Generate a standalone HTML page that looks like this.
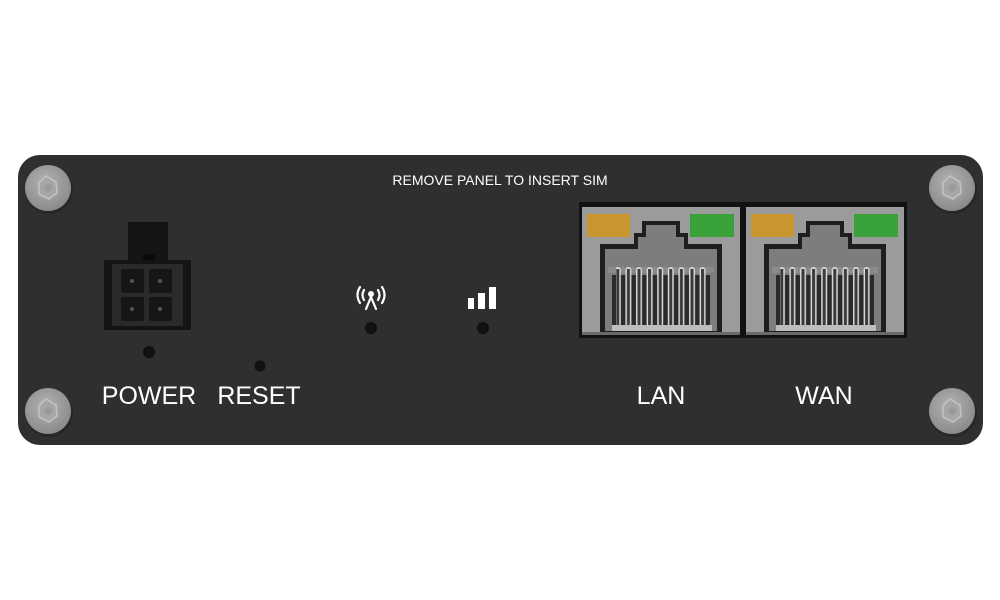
<!DOCTYPE html>
<html><head><style>
html,body{margin:0;padding:0;background:#fff;width:1000px;height:600px;overflow:hidden}
svg{display:block}
text{font-family:"Liberation Sans",sans-serif;fill:#fff}
</style></head><body>
<svg width="1000" height="600" viewBox="0 0 1000 600" xmlns="http://www.w3.org/2000/svg">
<defs>
<radialGradient id="sg" cx="0.45" cy="0.4" r="0.6">
<stop offset="0" stop-color="#b5b5b5"/><stop offset="1" stop-color="#8a8a8a"/>
</radialGradient>
<g id="screw">
<circle r="24" fill="#1f1f20" opacity="0.5" cx="1" cy="2"/>
<circle r="23" fill="url(#sg)"/>
<polygon points="-2,-12 8,-6 9,5 1,11 -9,6 -9,-5" fill="#a6a6a6" stroke="#c4c4c4" stroke-width="1.5"/>
<circle r="4" fill="#9a9a9a"/>
</g>
<pattern id="pins" x="0" y="0" width="10.6" height="60" patternUnits="userSpaceOnUse">
<rect x="1" y="0" width="6" height="60" rx="3" fill="#d8d8d8"/>
<rect x="2.5" y="2" width="3" height="58" fill="#3a3a3a"/>
</pattern>
<g id="jack">
<rect x="0" y="0" width="158" height="128" fill="#9b9b9b"/>
<rect x="5" y="7" width="43" height="23" fill="#c8952e"/>
<rect x="108" y="7" width="44" height="23" fill="#3aa23a"/>
<path d="M18 128 V37 H52 V26 H60 V14 H98 V26 H106 V37 H140 V128 Z" fill="#1e1e1e"/>
<path d="M23 124 V42 H56 V30 H64 V18 H94 V30 H102 V42 H135 V124 Z" fill="#7d7d7d"/>
<rect x="26" y="60" width="106" height="6" fill="#8a8a8a"/>
<rect x="30" y="68" width="98" height="54" fill="#2a2a2a"/>
<rect x="34" y="60" width="92" height="62" fill="url(#pins)"/>
<rect x="30" y="118" width="100" height="6" fill="#bdbdbd"/>
<rect x="0" y="125" width="158" height="3" fill="#6a6a6a"/>
</g>
</defs>
<rect x="18" y="155" width="965" height="290" rx="22" fill="#2f2f31"/>
<use href="#screw" x="48" y="188"/>
<use href="#screw" x="952" y="188"/>
<use href="#screw" x="48" y="411"/>
<use href="#screw" x="952" y="411"/>
<text x="500" y="185" font-size="14" text-anchor="middle">REMOVE PANEL TO INSERT SIM</text>
<!-- power connector -->
<rect x="128" y="222" width="40" height="40" fill="#141414"/>
<rect x="143" y="254" width="12" height="10" fill="#0a0a0a"/>
<rect x="104" y="260" width="87" height="70" fill="#141414"/>
<rect x="112" y="264" width="71" height="62" fill="#2a2a2a"/>
<rect x="121" y="269" width="23" height="24" rx="2" fill="#161616"/>
<rect x="149" y="269" width="23" height="24" rx="2" fill="#161616"/>
<rect x="121" y="297" width="23" height="24" rx="2" fill="#161616"/>
<rect x="149" y="297" width="23" height="24" rx="2" fill="#161616"/>
<circle cx="132" cy="281" r="2" fill="#555"/><circle cx="160" cy="281" r="2" fill="#555"/>
<circle cx="132" cy="309" r="2" fill="#555"/><circle cx="160" cy="309" r="2" fill="#555"/>
<circle cx="149" cy="352" r="6" fill="#111"/>
<circle cx="260" cy="366" r="5.5" fill="#111"/>
<!-- antenna icon -->
<g stroke="#fff" stroke-width="2.2" fill="none" stroke-linecap="round">
<path d="M360 287 Q355 295 360 303"/><path d="M364 290 Q361 295 364 300"/>
<path d="M382 287 Q387 295 382 303"/><path d="M378 290 Q381 295 378 300"/>
<path d="M371 297 L366 309 M371 297 L376 309"/>
</g>
<circle cx="371" cy="294" r="3" fill="#fff"/>
<circle cx="371" cy="328" r="6" fill="#111"/>
<!-- signal bars -->
<rect x="468" y="298" width="6" height="11" fill="#fff"/>
<rect x="478" y="293" width="7" height="16" fill="#fff"/>
<rect x="489" y="287" width="7" height="22" fill="#fff"/>
<circle cx="483" cy="328" r="6" fill="#111"/>
<!-- jacks -->
<rect x="579" y="202" width="328" height="136" fill="#111"/>
<use href="#jack" x="582" y="207"/>
<use href="#jack" x="746" y="207"/>
<text x="149" y="404" font-size="25" text-anchor="middle">POWER</text>
<text x="259" y="404" font-size="25" text-anchor="middle">RESET</text>
<text x="661" y="404" font-size="25" text-anchor="middle">LAN</text>
<text x="824" y="404" font-size="25" text-anchor="middle">WAN</text>
</svg>
</body></html>
